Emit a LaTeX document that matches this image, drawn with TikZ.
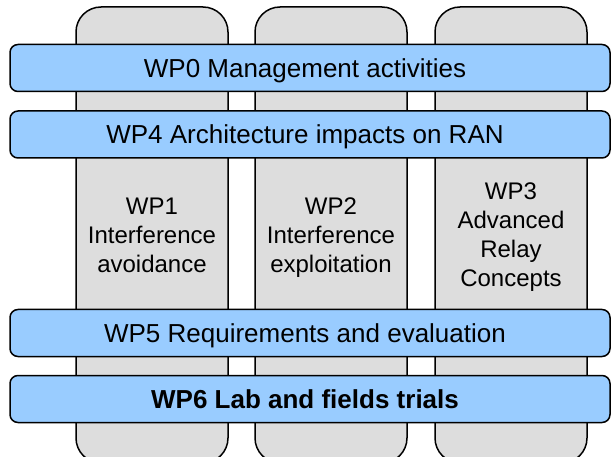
\documentclass[tikz,border=0pt]{standalone}
\usepackage{fontspec}
\setmainfont{Liberation Sans}
\usepackage{tikz}
\usepackage{xcolor}
\definecolor{colgrey}{HTML}{DDDDDD}
\definecolor{barblue}{HTML}{99CCFF}
\begin{document}
\begin{tikzpicture}[x=1pt, y=-1pt, line width=1.5pt,
  wpcol/.style={draw, rounded corners=25pt, fill=colgrey, minimum width=152pt, minimum height=456pt, align=center, text depth=0pt, font=\fontsize{24}{29}\selectfont},
  wpbar/.style={draw, rounded corners=8pt, fill=barblue, minimum width=600pt, minimum height=47pt, text depth=0pt, font=\fontsize{26}{30}\selectfont, execute at end node=\hspace*{10pt}}]
\useasboundingbox (0,0) rectangle (611,457);
% work package columns
\node [wpcol] (wp1) at (152,235) {WP1\\Interference\\avoidance};
\node [wpcol] (wp2) at (331,235) {WP2\\Interference\\exploitation};
\node [wpcol] (wp3) at (511,235) {WP3\\Advanced\\Relay\\Concepts};
% cross-cutting bars
\node [wpbar] (wp0) at (310,68) {WP0 Management activities};
\node [wpbar] (wp4) at (310,134.5) {WP4 Architecture impacts on RAN};
\node [wpbar] (wp5) at (310,333) {WP5 Requirements and evaluation};
\node [wpbar] (wp6) at (310,399) {\bfseries WP6 Lab and fields trials};
\end{tikzpicture}
\end{document}
